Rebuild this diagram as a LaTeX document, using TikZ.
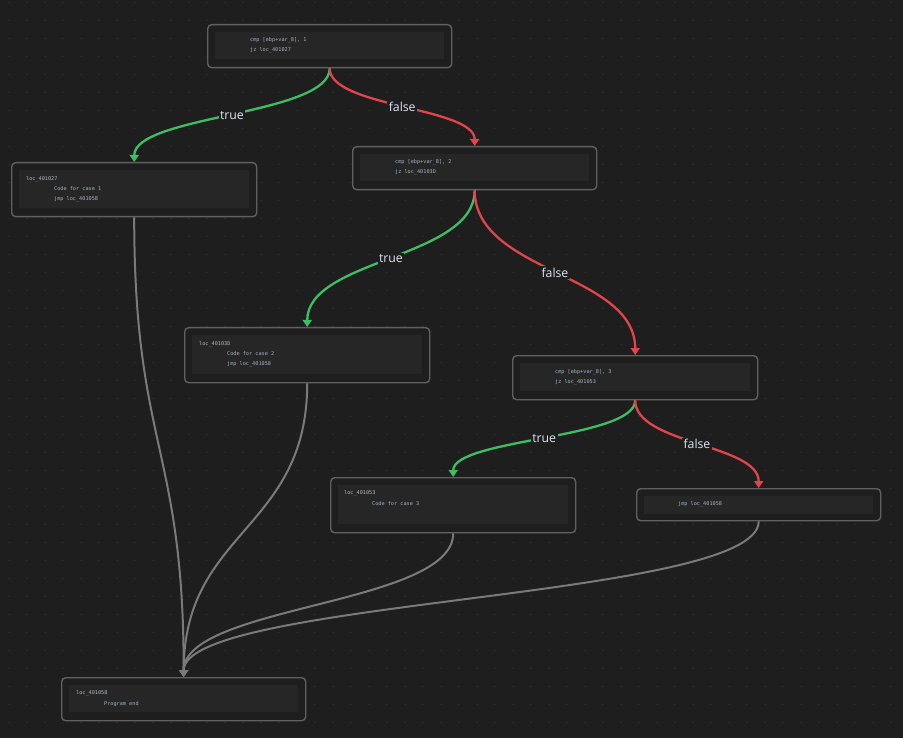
\documentclass[tikz,border=0pt]{standalone}
\usepackage{fontspec}
\setsansfont{Open Sans}
\setmonofont{DejaVu Sans Mono}
\usetikzlibrary{arrows.meta,calc}
\definecolor{bg}{HTML}{1E1E1E}
\definecolor{dotc}{HTML}{333333}
\definecolor{boxline}{HTML}{606060}
\definecolor{innerc}{HTML}{262626}
\definecolor{codec}{HTML}{A6B2C2}
\definecolor{locc}{HTML}{B4B8C0}
\definecolor{truec}{HTML}{3DBE62}
\definecolor{falsec}{HTML}{E2444C}
\definecolor{grayc}{HTML}{7A7A7A}
\definecolor{lblc}{HTML}{DCE6F2}
\tikzset{
  cfgbox/.style={draw=boxline, fill=bg, line width=1.4pt, rounded corners=4pt,
    inner sep=0pt, anchor=north west, minimum width=244pt},
  code/.style={anchor=west, inner sep=0pt, text=codec,
    font=\ttfamily\fontsize{5.2}{6}\selectfont},
  locl/.style={code, text=locc},
  edgelbl/.style={fill=bg, text=lblc, inner sep=1.5pt,
    font=\sffamily\fontsize{12.3}{14}\selectfont},
  tedge/.style={draw=truec, line width=2.3pt, -{Triangle[width=9pt,length=7pt]}},
  fedge/.style={draw=falsec, line width=2.3pt, -{Triangle[width=9pt,length=7pt]}},
  gedge/.style={draw=grayc, line width=2pt, -{Triangle[width=9pt,length=7pt]}},
}
\newcommand\cfgedge[3]{%
  \path (#2.south) -- coordinate[pos=.5] (m#2#3) (#3.north);
  \draw[#1] (#2.south) .. controls (#2.south |- m#2#3) and (#3.north |- m#2#3) .. (#3.north);
}
\newcommand\innerfill[2]{%
  \fill[innerc] ($(#1.north west)+(8,8)$) rectangle ($(#1.south east)+(-8,-#2)$);
}
\begin{document}
\begin{tikzpicture}[x=1pt,y=-1pt]
\fill[bg] (0,0) rectangle (903,738);
\useasboundingbox (0,0) rectangle (903,738);
\foreach \i in {0,...,49} \foreach \j in {0,...,40}
  \fill[dotc] (9+18*\i, 2.7+18*\j) circle (0.75pt);

% boxes
\node[cfgbox, minimum height=43pt] (n1) at (207,24) {};
\node[cfgbox, minimum height=54pt, minimum width=245pt] (n2) at (11,162) {};
\node[cfgbox, minimum height=43pt] (n3) at (352,146) {};
\node[cfgbox, minimum height=55pt, minimum width=245pt] (n4) at (184,327) {};
\node[cfgbox, minimum height=44pt, minimum width=245pt] (n5) at (512,355) {};
\node[cfgbox, minimum height=55pt, minimum width=245pt] (n6) at (330,477) {};
\node[cfgbox, minimum height=32pt] (n7) at (636,488) {};
\node[cfgbox, minimum height=43pt] (n8) at (61,677) {};

\innerfill{n1}{9}
\innerfill{n2}{9}
\innerfill{n3}{9}
\innerfill{n4}{9}
\innerfill{n5}{9}
\innerfill{n6}{9}
\innerfill{n7}{7}
\innerfill{n8}{9}

% texts
\node[code] (t1a) at (250,40) {cmp [ebp+var\_8], 1};
\node[code] (t1b) at (250,50) {jz loc\_401027};

\node[locl] (t2a) at (26,179) {loc\_401027};
\node[code] (t2b) at (54,189) {Code for case 1};
\node[code] (t2c) at (54,199) {jmp loc\_401058};

\node[code] (t3a) at (395,162) {cmp [ebp+var\_8], 2};
\node[code] (t3b) at (395,172) {jz loc\_40103D};

\node[locl] (t4a) at (199,344) {loc\_40103D};
\node[code] (t4b) at (227,354) {Code for case 2};
\node[code] (t4c) at (227,364) {jmp loc\_401058};

\node[code] (t5a) at (555,372) {cmp [ebp+var\_8], 3};
\node[code] (t5b) at (555,382) {jz loc\_401053};

\node[locl] (t6a) at (344,493) {loc\_401053};
\node[code] (t6b) at (372,504) {Code for case 3};

\node[code] (t7a) at (678,504) {jmp loc\_401058};

\node[locl] (t8a) at (76,693) {loc\_401058};
\node[code] (t8b) at (104,704) {Program end};

% edges
\cfgedge{gedge}{n2}{n8}
\cfgedge{gedge}{n4}{n8}
\cfgedge{gedge}{n6}{n8}
\cfgedge{gedge}{n7}{n8}

\cfgedge{tedge}{n1}{n2}
\cfgedge{fedge}{n1}{n3}
\cfgedge{tedge}{n3}{n4}
\cfgedge{fedge}{n3}{n5}
\cfgedge{tedge}{n5}{n6}
\cfgedge{fedge}{n5}{n7}

\node[edgelbl] (l12) at (mn1n2) {true};
\node[edgelbl] (l13) at (mn1n3) {false};
\node[edgelbl] (l34) at (mn3n4) {true};
\node[edgelbl] (l35) at (mn3n5) {false};
\node[edgelbl] (l56) at (mn5n6) {true};
\node[edgelbl] (l57) at (mn5n7) {false};
\end{tikzpicture}
\end{document}
